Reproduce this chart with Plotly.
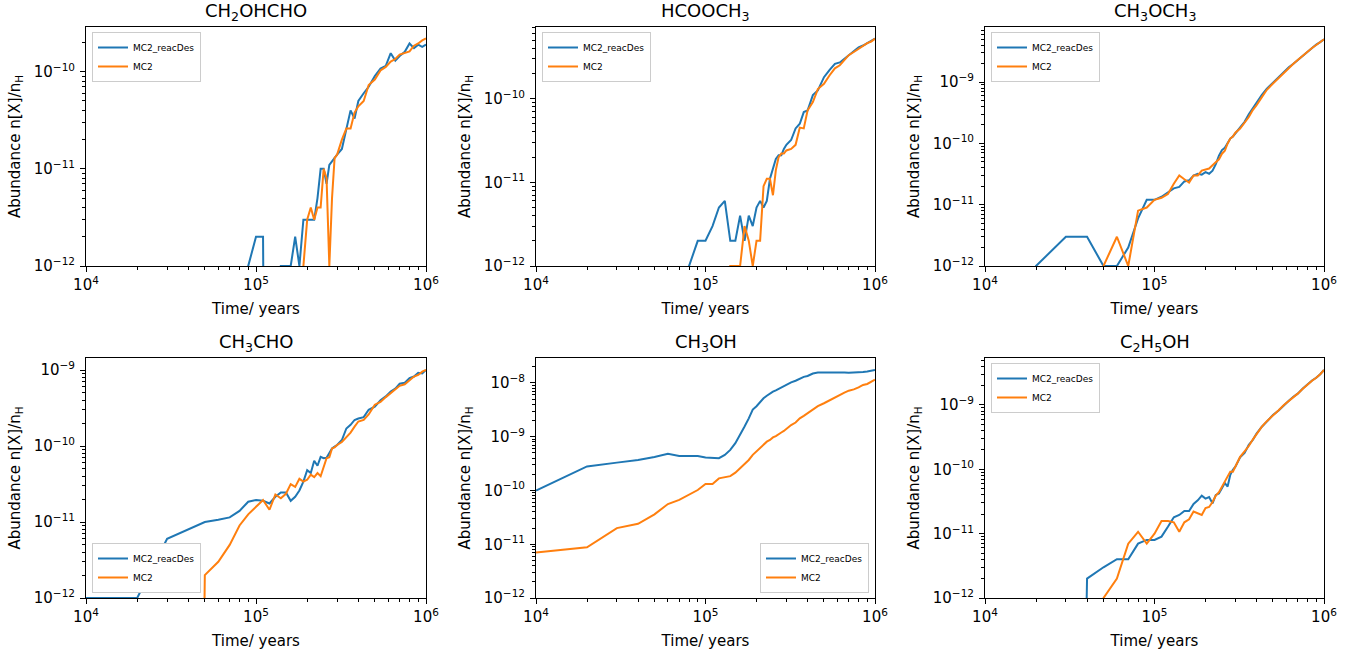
import plotly.graph_objects as go

# time grid (years)
time_yr = [
    1e4, 2e4, 3e4, 4e4, 5e4, 6e4, 7e4, 8e4, 9e4, 1e5,
    1.1e5, 1.2e5, 1.3e5, 1.4e5, 1.5e5, 1.6e5, 1.7e5, 1.8e5, 1.9e5, 2e5,
    2.1e5, 2.2e5, 2.3e5, 2.4e5, 2.5e5, 2.6e5, 2.7e5, 2.8e5, 2.9e5, 3e5,
    3.2e5, 3.4e5, 3.6e5, 3.8e5, 4e5, 4.3e5, 4.6e5, 5e5, 5.4e5, 5.8e5,
    6.2e5, 6.6e5, 7e5, 7.5e5, 8e5, 8.5e5, 9e5, 9.5e5, 1e6,
]

species = ["CH<sub>2</sub>OHCHO", "HCOOCH<sub>3</sub>", "CH<sub>3</sub>OCH<sub>3</sub>",
           "CH<sub>3</sub>CHO", "CH<sub>3</sub>OH", "C<sub>2</sub>H<sub>5</sub>OH"]

ch2ohcho_reacdes = [
    0, 0, 0, 0, 0, 0, 0, 0, 1e-12, 2e-12,
    2e-12, 0, 0, 1e-12, 1e-12, 1e-12, 2e-12, 1e-12, 3e-12, 3e-12,
    3e-12, 3e-12, 5e-12, 1.0e-11, 1.0e-11, 7e-12, 1.1e-11, 1.2e-11, 1.3e-11, 1.4e-11,
    1.6e-11, 2.6e-11, 4.0e-11, 3.3e-11, 5.0e-11, 6.0e-11, 7.0e-11, 9.0e-11, 1.08e-10, 1.15e-10,
    1.55e-10, 1.3e-10, 1.45e-10, 1.6e-10, 1.95e-10, 1.75e-10, 1.9e-10, 1.8e-10, 1.9e-10,
]
ch2ohcho_mc2 = [
    0, 0, 0, 0, 0, 0, 0, 0, 0, 0,
    0, 0, 0, 0, 0, 0, 0, 0, 1e-12, 3e-12,
    4e-12, 3e-12, 4e-12, 4e-12, 1.0e-11, 8e-12, 1e-12, 5e-12, 1.3e-11, 1.4e-11,
    2.0e-11, 2.6e-11, 2.6e-11, 3.8e-11, 4.4e-11, 5.0e-11, 7.3e-11, 8.3e-11, 1.03e-10, 1.12e-10,
    1.27e-10, 1.35e-10, 1.5e-10, 1.55e-10, 1.62e-10, 1.85e-10, 1.95e-10, 2.1e-10, 2.2e-10,
]

hcooch3_reacdes = [
    0, 0, 0, 0, 0, 0, 0, 1e-12, 2e-12, 2e-12,
    3e-12, 5e-12, 6e-12, 2e-12, 2e-12, 4e-12, 2e-12, 4e-12, 3e-12, 5e-12,
    6e-12, 5e-12, 6e-12, 1.1e-11, 1.5e-11, 1.9e-11, 2.1e-11, 2.1e-11, 2.5e-11, 2.8e-11,
    3.2e-11, 4.4e-11, 5.0e-11, 6.9e-11, 7.2e-11, 1.1e-10, 1.25e-10, 1.8e-10, 2.2e-10, 2.6e-10,
    2.7e-10, 3.0e-10, 3.3e-10, 3.7e-10, 4.1e-10, 4.3e-10, 4.6e-10, 4.8e-10, 5.2e-10,
]
hcooch3_mc2 = [
    0, 0, 0, 0, 0, 0, 0, 0, 0, 0,
    0, 0, 0, 1e-12, 1e-12, 1e-12, 3e-12, 2e-12, 1e-12, 2e-12,
    2e-12, 9e-12, 1.1e-11, 1.1e-11, 7e-12, 1.4e-11, 2.0e-11, 2.2e-11, 2.2e-11, 2.4e-11,
    2.5e-11, 2.8e-11, 4.5e-11, 4.4e-11, 7.2e-11, 9.1e-11, 1.3e-10, 1.5e-10, 1.9e-10, 2.3e-10,
    2.5e-10, 2.9e-10, 3.3e-10, 3.6e-10, 3.9e-10, 4.3e-10, 4.6e-10, 4.8e-10, 5.2e-10,
]

ch3och3_reacdes = [
    0, 1e-12, 3e-12, 3e-12, 1e-12, 1e-12, 2e-12, 6e-12, 1.2e-11, 1.2e-11,
    1.35e-11, 1.6e-11, 1.85e-11, 1.95e-11, 2.4e-11, 2.5e-11, 3.0e-11, 3.2e-11, 3.1e-11, 3.4e-11,
    3.2e-11, 3.6e-11, 4.6e-11, 6.3e-11, 7.8e-11, 8.5e-11, 1.0e-10, 1.2e-10, 1.3e-10, 1.45e-10,
    1.78e-10, 2.25e-10, 3.0e-10, 3.8e-10, 4.7e-10, 6.2e-10, 7.8e-10, 9.8e-10, 1.19e-9, 1.42e-9,
    1.75e-9, 2.0e-9, 2.3e-9, 2.75e-9, 3.2e-9, 3.65e-9, 4.1e-9, 4.5e-9, 5.0e-9,
]
ch3och3_mc2 = [
    0, 0, 0, 0, 1e-12, 3e-12, 1e-12, 8e-12, 9e-12, 1.2e-11,
    1.3e-11, 1.5e-11, 2.2e-11, 3.0e-11, 2.6e-11, 2.3e-11, 3.0e-11, 3.0e-11, 3.6e-11, 3.7e-11,
    3.9e-11, 4.4e-11, 5.0e-11, 5.5e-11, 6.8e-11, 7.6e-11, 1.0e-10, 1.2e-10, 1.3e-10, 1.5e-10,
    1.75e-10, 2.15e-10, 2.7e-10, 3.5e-10, 4.2e-10, 5.7e-10, 7.5e-10, 9.5e-10, 1.17e-9, 1.42e-9,
    1.75e-9, 2.0e-9, 2.3e-9, 2.72e-9, 3.2e-9, 3.6e-9, 4.05e-9, 4.5e-9, 5.0e-9,
]

ch3cho_reacdes = [
    1e-12, 1e-12, 6e-12, 8e-12, 1.0e-11, 1.07e-11, 1.15e-11, 1.4e-11, 1.85e-11, 1.95e-11,
    1.9e-11, 1.75e-11, 2.15e-11, 2.45e-11, 2.45e-11, 1.9e-11, 2.15e-11, 2.6e-11, 3.4e-11, 4.8e-11,
    4.4e-11, 6.4e-11, 5.5e-11, 7.2e-11, 6.9e-11, 7.0e-11, 8.0e-11, 9.3e-11, 9.8e-11, 1.03e-10,
    1.2e-10, 1.7e-10, 1.9e-10, 2.2e-10, 2.3e-10, 2.4e-10, 3.0e-10, 3.3e-10, 4.0e-10, 4.5e-10,
    5.2e-10, 5.7e-10, 6.6e-10, 6.8e-10, 7.8e-10, 8.2e-10, 9.2e-10, 9.0e-10, 1.0e-9,
]
ch3cho_mc2 = [
    0, 0, 0, 0, 2e-12, 3e-12, 5e-12, 9e-12, 1.26e-11, 1.6e-11,
    1.95e-11, 1.45e-11, 2.3e-11, 2.05e-11, 2.35e-11, 3.15e-11, 2.9e-11, 3.7e-11, 3.4e-11, 3.6e-11,
    4.2e-11, 3.9e-11, 4.4e-11, 4.0e-11, 5.3e-11, 6.9e-11, 7.1e-11, 9.3e-11, 9.6e-11, 1.03e-10,
    1.13e-10, 1.3e-10, 1.5e-10, 1.8e-10, 2.1e-10, 2.2e-10, 2.6e-10, 3.5e-10, 3.8e-10, 4.4e-10,
    5.0e-10, 5.5e-10, 6.2e-10, 6.5e-10, 7.4e-10, 8.2e-10, 8.6e-10, 9.5e-10, 1.0e-9,
]

ch3oh_reacdes = [
    1.0e-10, 2.8e-10, 3.3e-10, 3.7e-10, 4.2e-10, 4.8e-10, 4.4e-10, 4.4e-10, 4.4e-10, 4.1e-10,
    4.0e-10, 4.0e-10, 4.6e-10, 5.7e-10, 7.6e-10, 1.08e-9, 1.55e-9, 2.2e-9, 3.2e-9, 3.7e-9,
    4.5e-9, 5.2e-9, 5.8e-9, 6.4e-9, 6.9e-9, 7.3e-9, 7.8e-9, 8.3e-9, 8.8e-9, 9.3e-9,
    1.03e-8, 1.1e-8, 1.2e-8, 1.3e-8, 1.35e-8, 1.5e-8, 1.56e-8, 1.57e-8, 1.57e-8, 1.56e-8,
    1.57e-8, 1.56e-8, 1.55e-8, 1.55e-8, 1.57e-8, 1.6e-8, 1.64e-8, 1.68e-8, 1.75e-8,
]
ch3oh_mc2 = [
    7e-12, 8.8e-12, 2.0e-11, 2.4e-11, 3.6e-11, 5.6e-11, 6.7e-11, 8.3e-11, 1.02e-10, 1.32e-10,
    1.32e-10, 1.68e-10, 1.75e-10, 1.85e-10, 2.15e-10, 2.6e-10, 3.2e-10, 3.7e-10, 4.6e-10, 5.3e-10,
    6.1e-10, 7.0e-10, 8.1e-10, 8.7e-10, 9.7e-10, 1.03e-9, 1.13e-9, 1.2e-9, 1.28e-9, 1.4e-9,
    1.65e-9, 1.84e-9, 2.2e-9, 2.45e-9, 2.75e-9, 3.2e-9, 3.7e-9, 4.2e-9, 4.8e-9, 5.4e-9,
    6.0e-9, 6.6e-9, 7.2e-9, 7.6e-9, 8.3e-9, 9.2e-9, 9.6e-9, 1.04e-8, 1.15e-8,
]

c2h5oh_reacdes = [
    0, 0, 0, 2e-12, 3e-12, 4e-12, 4e-12, 7e-12, 8e-12, 8e-12,
    9e-12, 1.28e-11, 1.8e-11, 1.95e-11, 2.25e-11, 2.25e-11, 2.9e-11, 3.3e-11, 3.9e-11, 3.5e-11,
    3.7e-11, 2.95e-11, 4.0e-11, 4.2e-11, 5.1e-11, 6.1e-11, 5.4e-11, 8.2e-11, 9.8e-11, 1.1e-10,
    1.54e-10, 1.8e-10, 2.4e-10, 2.85e-10, 3.6e-10, 4.6e-10, 5.5e-10, 7.0e-10, 8.2e-10, 1.0e-9,
    1.16e-9, 1.34e-9, 1.5e-9, 1.8e-9, 2.1e-9, 2.4e-9, 2.65e-9, 3.0e-9, 3.5e-9,
]
c2h5oh_mc2 = [
    0, 0, 0, 0, 1e-12, 2e-12, 7e-12, 1.07e-11, 7e-12, 1.0e-11,
    1.57e-11, 1.57e-11, 1.5e-11, 1.07e-11, 1.5e-11, 1.67e-11, 2.2e-11, 2.05e-11, 1.95e-11, 2.5e-11,
    2.6e-11, 3.1e-11, 3.9e-11, 4.4e-11, 5.3e-11, 6.4e-11, 7.7e-11, 9.2e-11, 9.2e-11, 1.1e-10,
    1.56e-10, 1.9e-10, 2.3e-10, 2.9e-10, 3.5e-10, 4.6e-10, 5.6e-10, 7.0e-10, 8.3e-10, 1.0e-9,
    1.15e-9, 1.32e-9, 1.5e-9, 1.78e-9, 2.08e-9, 2.38e-9, 2.65e-9, 3.0e-9, 3.5e-9,
]

W, H = 1361, 655
BLUE, ORANGE = "#1f77b4", "#ff7f0e"
FONT = "DejaVu Sans"

# panel layout in page pixels: (left, right), (top, bottom)
cols_px = [(86, 426), (536, 875), (985, 1324)]
rows_px = [(27, 266), (358, 598)]
y_top = [-9.54, -9.145, -8.10, -8.842, -7.535, -8.27]
legend_corner = ["ul", "ul", "ul", "ll", "lr", "ul"]

series = [
    (ch2ohcho_reacdes, ch2ohcho_mc2), (hcooch3_reacdes, hcooch3_mc2),
    (ch3och3_reacdes, ch3och3_mc2), (ch3cho_reacdes, ch3cho_mc2),
    (ch3oh_reacdes, ch3oh_mc2), (c2h5oh_reacdes, c2h5oh_mc2),
]


def clip(vals):
    # zero abundance drops off the log axis, like matplotlib's clipping
    return [v if v > 0 else 1e-30 for v in vals]


def sup(e):
    return "10<sup>" + str(e).replace("-", "\u2212") + "</sup>"


fig = go.Figure()
layout = {}
annotations = []
for i, (reac, mc2) in enumerate(series):
    n = i + 1
    r, c = divmod(i, 3)
    x0, x1 = cols_px[c]
    t0, t1 = rows_px[r]
    dx = [x0 / W, x1 / W]
    dy = [1 - t1 / H, 1 - t0 / H]
    xa, ya = ("x", "y") if n == 1 else (f"x{n}", f"y{n}")
    lg = "legend" if n == 1 else f"legend{n}"

    fig.add_trace(go.Scatter(x=time_yr, y=clip(reac), mode="lines", name="MC2_reacDes",
                             line=dict(color=BLUE, width=2), xaxis=xa, yaxis=ya, legend=lg))
    fig.add_trace(go.Scatter(x=time_yr, y=clip(mc2), mode="lines", name="MC2",
                             line=dict(color=ORANGE, width=2), xaxis=xa, yaxis=ya, legend=lg))

    ymax_exp = int(y_top[i] // 1)
    y_major = [10.0 ** e for e in range(-12, ymax_exp + 1)]
    y_minor = [m * 10.0 ** e for e in range(-12, ymax_exp + 1) for m in range(2, 10)]
    x_minor = [m * 10.0 ** e for e in (4, 5) for m in range(2, 10)]

    common = dict(type="log", showline=True, linecolor="black", linewidth=1, mirror=True,
                  ticks="outside", ticklen=5, tickcolor="black", showgrid=False,
                  zeroline=False, automargin=False,
                  tickfont=dict(family=FONT, size=15, color="black"))
    layout["xaxis" if n == 1 else f"xaxis{n}"] = dict(
        common, domain=dx, anchor=ya, range=[4, 6],
        tickvals=[1e4, 1e5, 1e6], ticktext=[sup(4), sup(5), sup(6)],
        minor=dict(tickvals=x_minor, ticks="outside", ticklen=3, tickcolor="black", showgrid=False),
        title=dict(text="Time/ years", standoff=10, font=dict(family=FONT, size=15, color="black")))
    layout["yaxis" if n == 1 else f"yaxis{n}"] = dict(
        common, domain=dy, anchor=xa, range=[-12, y_top[i]],
        tickvals=y_major, ticktext=[sup(e) for e in range(-12, ymax_exp + 1)],
        ticklabelstandoff=2,
        minor=dict(tickvals=y_minor, ticks="outside", ticklen=3, tickcolor="black", showgrid=False),
        title=dict(text="Abundance n[X]/n<sub>H</sub>", standoff=9,
                   font=dict(family=FONT, size=15, color="black")))

    corner = legend_corner[i]
    pad_x, pad_y = 6 / W, 5 / H
    if corner == "ul":
        lpos = dict(x=dx[0] + pad_x, y=dy[1] - pad_y, xanchor="left", yanchor="top")
    elif corner == "ll":
        lpos = dict(x=dx[0] + pad_x, y=dy[0] + pad_y, xanchor="left", yanchor="bottom")
    else:
        lpos = dict(x=dx[1] - pad_x, y=dy[0] + pad_y, xanchor="right", yanchor="bottom")
    layout[lg] = dict(lpos, bgcolor="white", bordercolor="#cccccc", borderwidth=1,
                      font=dict(family=FONT, size=9, color="black"), itemwidth=30)

    annotations.append(dict(text=species[i], xref="paper", yref="paper",
                            x=(dx[0] + dx[1]) / 2, y=dy[1], xanchor="center", yanchor="bottom",
                            yshift=1, showarrow=False,
                            font=dict(family=FONT, size=18, color="black")))

fig.update_layout(
    width=W, height=H,
    margin=dict(l=0, r=0, t=0, b=0),
    paper_bgcolor="white", plot_bgcolor="white",
    annotations=annotations,
    **layout,
)

# drop the page's default body margin so the figure sits at the window corner
fig.write_html("out.html", config={"displayModeBar": False},
               post_script="document.body.style.margin = '0';")
